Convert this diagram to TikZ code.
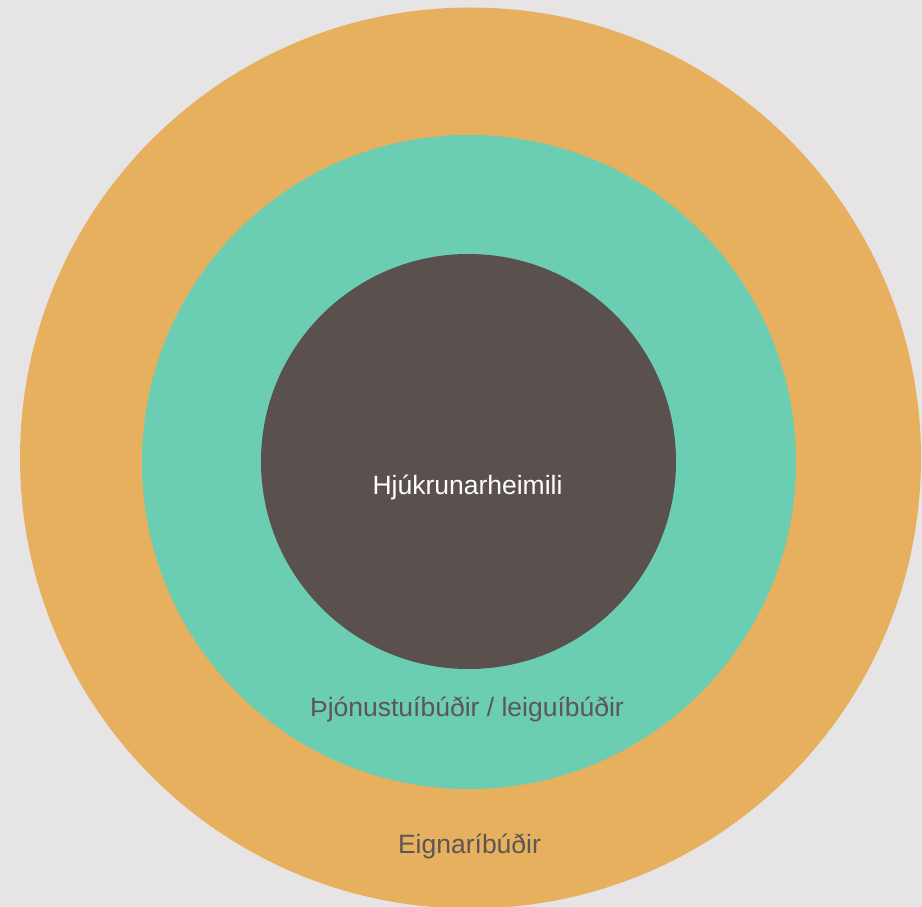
\documentclass[tikz,border=0pt]{standalone}
\usepackage{fontspec}
\setmainfont{Liberation Sans}
\definecolor{bgc}{HTML}{E6E4E4}
\definecolor{outerc}{HTML}{E6B05E}
\definecolor{midc}{HTML}{6BCDB1}
\definecolor{innerc}{HTML}{5A504D}
\definecolor{txtc}{HTML}{5E5654}
\begin{document}
\begin{tikzpicture}[x=1pt,y=-1pt,
  ring/.style={circle,draw=none,inner sep=0pt,minimum size=#1},
  lab/.style={anchor=base,inner sep=0pt,font=\fontsize{26.5}{30}\selectfont}]
\fill[bgc] (0,0) rectangle (922,907);
\useasboundingbox (0,0) rectangle (922,907);
\begin{scope}
\clip (0,0) rectangle (922,907);
\node[ring=901pt,fill=outerc] (outer) at (470.5,458) {};
\end{scope}
\node[ring=654pt,fill=midc] (mid) at (469,462) {};
\node[ring=415pt,fill=innerc] (inner) at (468.5,461.5) {};
\node[lab,text=white] (t1) at (467.5,494) {Hjúkrunarheimili};
\node[lab,text=txtc] (t2) at (467,716) {Þjónustuíbúðir / leiguíbúðir};
\node[lab,text=txtc] (t3) at (469.5,853) {Eignaríbúðir};
\end{tikzpicture}
\end{document}
